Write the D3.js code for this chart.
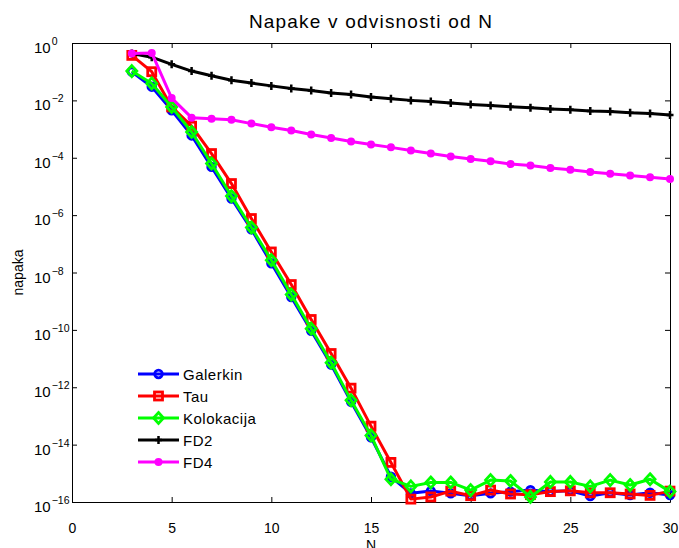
<!DOCTYPE html>
<html>
<head>
<meta charset="utf-8">
<script src="https://cdn.jsdelivr.net/npm/d3@7"></script>
<style>
  body { margin: 0; background: #fff; }
  text { font-family: "Liberation Sans", Arial, sans-serif; fill: #000; }
</style>
</head>
<body>
<div id="chart"></div>
<script>
var svgWidth = 679;
var svgHeight = 548;

var margin = { top: 43, right: 9, bottom: 46, left: 72 };
var width = svgWidth - margin.left - margin.right;
var height = svgHeight - margin.top - margin.bottom;

// N values
var N = [3, 4, 5, 6, 7, 8, 9, 10, 11, 12, 13, 14, 15, 16, 17, 18, 19, 20,
         21, 22, 23, 24, 25, 26, 27, 28, 29, 30];

var galerkin = [0.10, 0.030, 4.5e-3, 6.0e-4, 4.8e-5, 3.8e-6, 3.2e-7, 2.1e-8, 1.4e-9, 9.3e-11,
                6.2e-12, 3.1e-13, 1.8e-14, 7.6e-16, 2.0e-16, 2.4e-16, 2.0e-16, 1.66e-16,
                2.0e-16, 2.3e-16, 2.6e-16, 2.3e-16, 2.45e-16, 1.6e-16, 2.1e-16, 1.75e-16,
                2.1e-16, 1.75e-16];

var tau = [0.37, 0.10, 5.9e-3, 1.26e-3, 1.4e-4, 1.26e-5, 7.6e-7, 5.2e-8, 3.8e-9, 2.3e-10,
           1.5e-11, 9.3e-13, 4.4e-14, 2.4e-15, 1.26e-16, 1.5e-16, 2.4e-16, 1.66e-16,
           2.6e-16, 1.9e-16, 1.8e-16, 2.3e-16, 2.45e-16, 2.1e-16, 2.1e-16, 1.9e-16,
           1.7e-16, 2.4e-16];

var kolokacija = [0.105, 0.039, 5.9e-3, 7.9e-4, 6.3e-5, 4.6e-6, 3.7e-7, 2.7e-8, 1.7e-9, 1.1e-10,
                  7.2e-12, 3.5e-13, 2.1e-14, 6.2e-16, 3.5e-16, 4.8e-16, 4.8e-16, 2.6e-16,
                  5.8e-16, 5.4e-16, 1.5e-16, 5.0e-16, 5.0e-16, 3.5e-16, 5.8e-16, 3.9e-16,
                  6.2e-16, 2.3e-16];

var fd2 = [0.43, 0.32, 0.18, 0.105, 0.072, 0.050, 0.040, 0.032, 0.026, 0.022, 0.018, 0.016,
           0.013, 0.0115, 0.0100, 0.0091, 0.0081, 0.0072, 0.0066, 0.0060, 0.0055, 0.0050,
           0.0047, 0.0043, 0.0041, 0.0037, 0.0035, 0.0031];

var fd4 = [0.43, 0.45, 0.012, 0.0025, 0.0023, 0.0021, 0.00155, 0.00115, 8.9e-4, 6.5e-4,
           4.9e-4, 3.7e-4, 2.9e-4, 2.3e-4, 1.8e-4, 1.4e-4, 1.1e-4, 9.1e-5, 7.6e-5, 6.0e-5,
           5.4e-5, 4.4e-5, 3.8e-5, 3.2e-5, 2.75e-5, 2.4e-5, 2.1e-5, 1.8e-5];

var xTicks = [0, 5, 10, 15, 20, 25, 30];
var yExponents = [0, -2, -4, -6, -8, -10, -12, -14, -16];

var series = [
    { name: "Galerkin", values: galerkin, color: "#0000ff", marker: "circle" },
    { name: "Tau", values: tau, color: "#ff0000", marker: "square" },
    { name: "Kolokacija", values: kolokacija, color: "#00ff00", marker: "diamond" },
    { name: "FD2", values: fd2, color: "#000000", marker: "plus" },
    { name: "FD4", values: fd4, color: "#ff00ff", marker: "dot" }
];

var svg = d3.select("#chart").append("svg")
    .attr("width", svgWidth)
    .attr("height", svgHeight);

var chartGroup = svg.append("g")
    .attr("transform", `translate(${margin.left}, ${margin.top})`);

var x = d3.scaleLinear().domain([0, 30]).range([0, width]);
var y = d3.scaleLog().domain([1e-16, 1]).range([height, 0]);

// axes (ticks pointing inward, box all round)
var bottomAxis = chartGroup.append("g")
    .attr("transform", `translate(0, ${height})`)
    .call(d3.axisBottom(x).tickValues(xTicks).tickSize(-5).tickSizeOuter(0).tickPadding(21));
var topAxis = chartGroup.append("g")
    .call(d3.axisTop(x).tickValues(xTicks).tickSize(-5).tickSizeOuter(0).tickFormat(""));
var leftAxis = chartGroup.append("g")
    .call(d3.axisLeft(y).tickValues(yExponents.map(e => Math.pow(10, e))).tickSize(-5)
        .tickSizeOuter(0).tickFormat(""));
var rightAxis = chartGroup.append("g")
    .attr("transform", `translate(${width}, 0)`)
    .call(d3.axisRight(y).tickValues(yExponents.map(e => Math.pow(10, e))).tickSize(-5)
        .tickSizeOuter(0).tickFormat(""));

chartGroup.selectAll(".domain").attr("stroke", "#000").attr("stroke-width", 1);
chartGroup.selectAll(".tick line").attr("stroke", "#000");
bottomAxis.selectAll("text")
    .style("font-family", "'Liberation Sans', Arial, sans-serif")
    .style("font-size", "14px")
    .attr("fill", "#000");

// y tick labels 10^e
var yLabels = chartGroup.append("g");
yExponents.forEach(function (e) {
    var t = yLabels.append("text")
        .attr("x", 34 - margin.left)
        .attr("y", y(Math.pow(10, e)) + 10)
        .style("font-size", "15px");
    t.append("tspan").text("10");
    t.append("tspan")
        .attr("dy", -8)
        .attr("dx", 1)
        .style("font-size", "10.5px")
        .text(e === 0 ? "0" : "\u2212" + (-e));
});

// lines and markers
var line = d3.line()
    .x((d, i) => x(N[i]))
    .y(d => y(d));

series.forEach(function (s) {
    var g = chartGroup.append("g");
    g.append("path")
        .datum(s.values)
        .attr("fill", "none")
        .attr("stroke", s.color)
        .attr("stroke-width", 3)
        .attr("stroke-linejoin", "round")
        .attr("d", line);
    drawMarkers(g, s, s.values.map((v, i) => [x(N[i]), y(v)]));
});

function drawMarkers(g, s, pts) {
    pts.forEach(function (p) {
        drawMarker(g, s.marker, s.color, p[0], p[1]);
    });
}

function drawMarker(g, marker, color, px, py) {
    if (marker === "circle") {
        g.append("circle").attr("cx", px).attr("cy", py).attr("r", 3.8)
            .attr("fill", "none").attr("stroke", color).attr("stroke-width", 2.8);
    } else if (marker === "square") {
        g.append("rect").attr("x", px - 4).attr("y", py - 4).attr("width", 8).attr("height", 8)
            .attr("fill", "none").attr("stroke", color).attr("stroke-width", 2.8);
    } else if (marker === "diamond") {
        g.append("path")
            .attr("d", `M${px},${py - 5.5}L${px + 5},${py}L${px},${py + 5.5}L${px - 5},${py}Z`)
            .attr("fill", "none").attr("stroke", color).attr("stroke-width", 2.8);
    } else if (marker === "plus") {
        g.append("path")
            .attr("d", `M${px - 3.5},${py}H${px + 3.5}M${px},${py - 4}V${py + 4}`)
            .attr("stroke", color).attr("stroke-width", 2.5);
    } else if (marker === "dot") {
        g.append("circle").attr("cx", px).attr("cy", py).attr("r", 4)
            .attr("fill", color);
    }
}

// legend
var legend = chartGroup.append("g")
    .attr("transform", `translate(${138 - margin.left}, ${374 - margin.top})`);
series.forEach(function (s, i) {
    var row = legend.append("g").attr("transform", `translate(0, ${i * 22})`);
    row.append("line").attr("x1", 0).attr("x2", 41).attr("y1", 0).attr("y2", 0)
        .attr("stroke", s.color).attr("stroke-width", 3);
    drawMarker(row, s.marker, s.color, 20.5, 0);
    row.append("text").attr("x", 45).attr("y", 5.5)
        .style("font-size", "15px")
        .style("letter-spacing", "0.5px")
        .text(s.name);
});

// titles
svg.append("text")
    .attr("x", margin.left + width / 2)
    .attr("y", 28)
    .attr("text-anchor", "middle")
    .style("font-size", "19px")
    .style("letter-spacing", "1.2px")
    .text("Napake v odvisnosti od N");

svg.append("text")
    .attr("transform", `translate(23, ${margin.top + height / 2}) rotate(-90)`)
    .attr("text-anchor", "middle")
    .style("font-size", "14px")
    .text("napaka");

svg.append("text")
    .attr("x", margin.left + width / 2)
    .attr("y", 550)
    .attr("text-anchor", "middle")
    .style("font-size", "14px")
    .text("N");
</script>
</body>
</html>
